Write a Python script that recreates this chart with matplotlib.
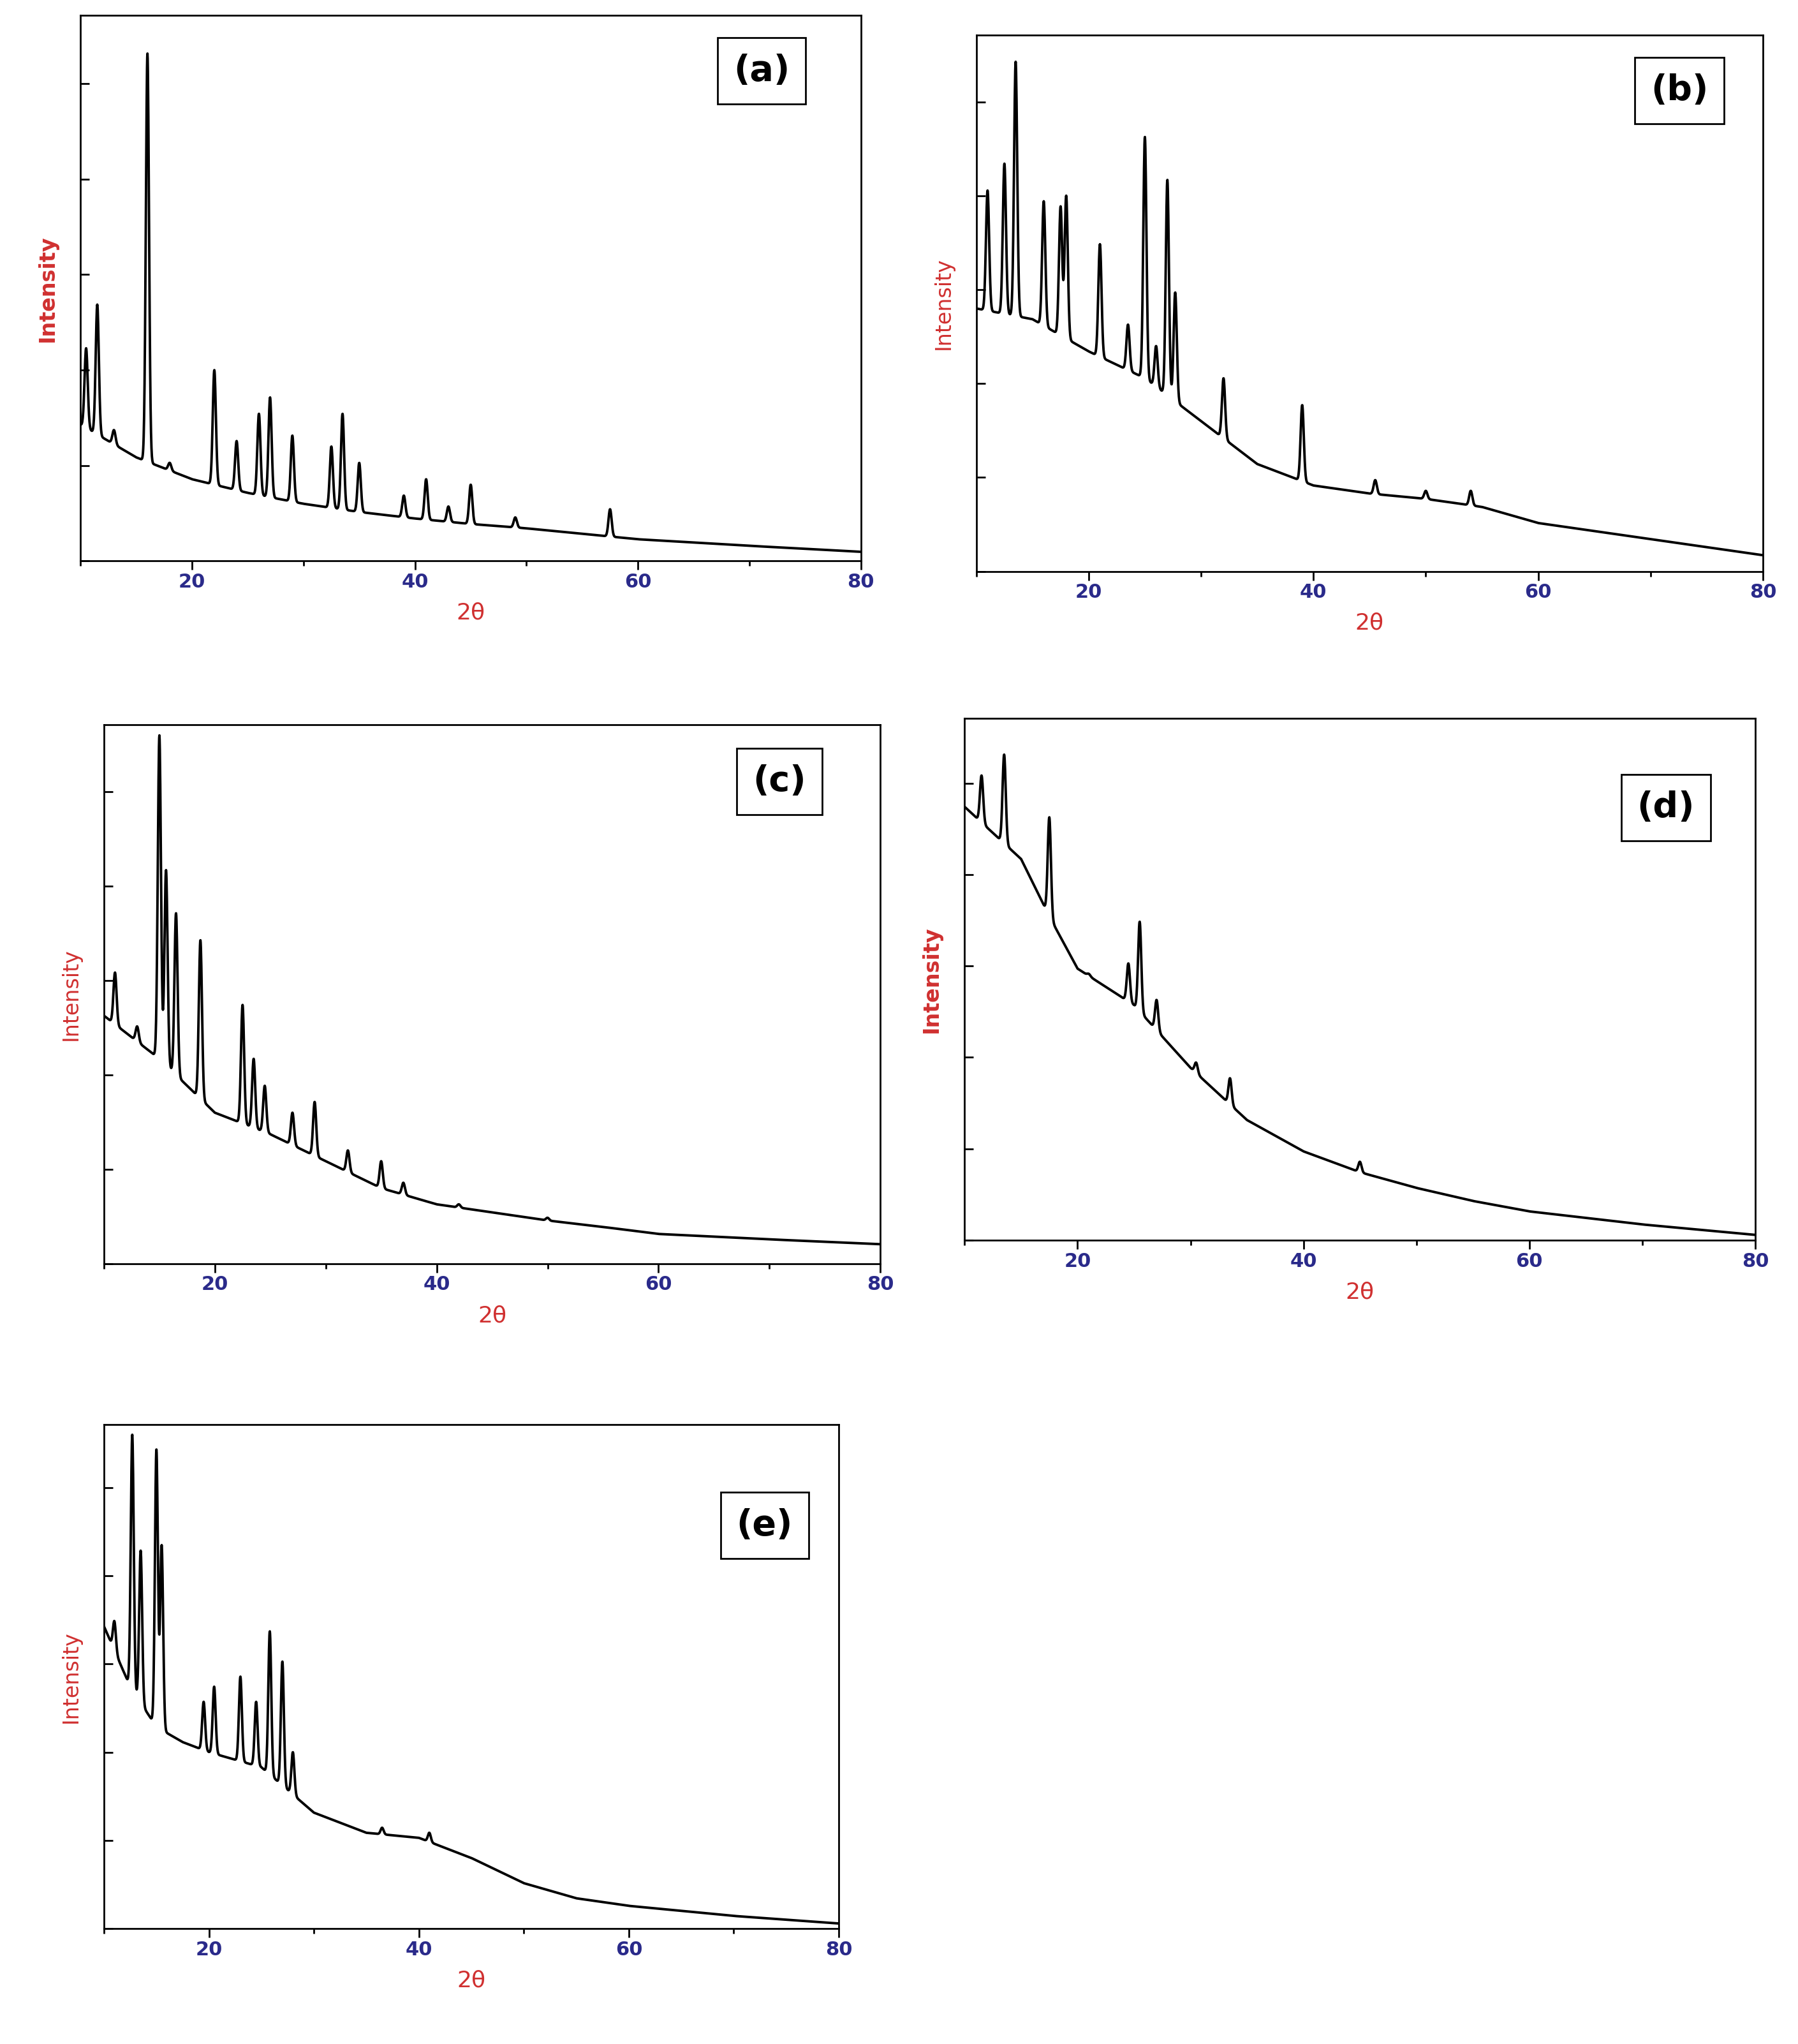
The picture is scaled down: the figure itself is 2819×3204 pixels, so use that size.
import numpy as np
import matplotlib
matplotlib.use("Agg")
import matplotlib.pyplot as plt

two_theta_base = [10, 12.5, 15, 17.5, 20, 25, 30, 35, 40, 45, 50, 55, 60, 70, 80]

# Baseline intensities (percent of axis height) at two_theta_base
base_a = [25, 22, 19, 17, 15, 12.5, 10.5, 9, 7.8, 6.8, 6, 5, 4, 2.8, 1.7]
base_b = [49, 48, 47, 44, 41, 36, 28, 20, 16, 14.5, 13.5, 12, 9, 6, 3]
base_c = [46, 42, 38, 33, 28, 24, 19, 14, 11, 9.5, 8, 6.8, 5.5, 4.5, 3.6]
base_d = [83, 78, 73, 62, 52, 45, 33, 23, 17, 13, 10, 7.5, 5.5, 3, 1]
base_e = [60, 48, 40, 37, 35, 32, 23, 19, 18, 14, 9, 6, 4.5, 2.5, 1]

# Peaks: position (2θ) and apex intensity (percent)
peaks_a_pos = [10.5, 11.5, 13, 16, 18, 22, 24, 26, 27, 29, 32.5, 33.5, 35, 39, 41, 43, 45, 49, 57.5]
peaks_a_int = [39, 47, 24, 93, 18, 35, 22, 27, 30, 23, 21, 27, 18, 12, 15, 10, 14, 8, 9.5]
peaks_b_pos = [11, 12.5, 13.5, 16, 17.5, 18, 21, 23.5, 25, 26, 27, 27.7, 32, 39, 45.5, 50, 54]
peaks_b_int = [71, 76, 95, 69, 68, 70, 61, 46, 81, 42, 73, 52, 36, 31, 17, 15, 15]
peaks_c_pos = [11, 13, 15, 15.6, 16.5, 18.7, 22.5, 23.5, 24.5, 27, 29, 32, 35, 37, 42, 46, 50]
peaks_c_int = [54, 44, 98, 73, 65, 60, 48, 38, 33, 28, 30, 21, 19, 15, 11, 9, 8.5]
peaks_d_pos = [11.5, 13.5, 17.5, 21, 24.5, 25.5, 27, 30.5, 33.5, 36, 42, 45]
peaks_d_int = [89, 93, 81, 51, 53, 61, 46, 34, 31, 21, 14, 15]
peaks_e_pos = [11, 12.7, 13.5, 15, 15.5, 19.5, 20.5, 23, 24.5, 25.8, 27, 28, 36.5, 41]
peaks_e_int = [61, 98, 75, 95, 76, 45, 48, 50, 45, 59, 53, 35, 20, 19]

panels = [
    ("(a)", base_a, peaks_a_pos, peaks_a_int, True, [0.0448, 0.7255, 0.434, 0.267], (0.873, 0.898)),
    ("(b)", base_b, peaks_b_pos, peaks_b_int, False, [0.543, 0.7205, 0.4375, 0.2624], (0.894, 0.896)),
    ("(c)", base_c, peaks_c_pos, peaks_c_int, False, [0.0578, 0.3818, 0.4318, 0.2637], (0.87, 0.894)),
    ("(d)", base_d, peaks_d_pos, peaks_d_int, True, [0.5365, 0.3933, 0.4397, 0.2554], (0.887, 0.828)),
    ("(e)", base_e, peaks_e_pos, peaks_e_int, False, [0.0578, 0.0565, 0.4087, 0.2465], (0.899, 0.80)),
]

fig = plt.figure(figsize=(28.19, 32.04), dpi=100)
x = np.linspace(10, 80, 3500)
for label, base, ppos, pint, bold, rect, lpos in panels:
    ax = fig.add_axes(rect)
    y = np.interp(x, two_theta_base, base)
    for p, h in zip(ppos, pint):
        b0 = np.interp(p, two_theta_base, base)
        y = y + max(h - b0, 0) * np.exp(-((x - p) / 0.2) ** 2)
    ax.plot(x, y, color="black", lw=2.8)
    ax.set_xlim(10, 80)
    ax.set_ylim(0, 100)
    ax.set_xticks([20, 40, 60, 80])
    ax.set_xticks(np.arange(10, 81, 10), minor=True)
    ax.set_yticks(np.arange(0, 101, 17.5))
    ax.set_yticklabels([])
    ax.tick_params(axis="x", labelsize=22, labelcolor="#2a2a8a", length=10, width=2, direction="out")
    ax.tick_params(axis="x", which="minor", length=6, width=2)
    ax.tick_params(axis="y", length=10, width=2, direction="in")
    for lab in ax.get_xticklabels():
        lab.set_fontweight("bold")
    for s in ax.spines.values():
        s.set_linewidth(2)
    ax.set_xlabel("2θ", color="#d03030", fontsize=26, labelpad=12)
    ax.set_ylabel("Intensity", color="#d03030", fontsize=24,
                  fontweight="bold" if bold else "normal", labelpad=22)
    ax.text(lpos[0], lpos[1], label, transform=ax.transAxes, ha="center", va="center",
            fontsize=40, fontweight="bold",
            bbox=dict(boxstyle="square,pad=0.45", fc="white", ec="black", lw=2))

fig.savefig("out.png", dpi=100)
